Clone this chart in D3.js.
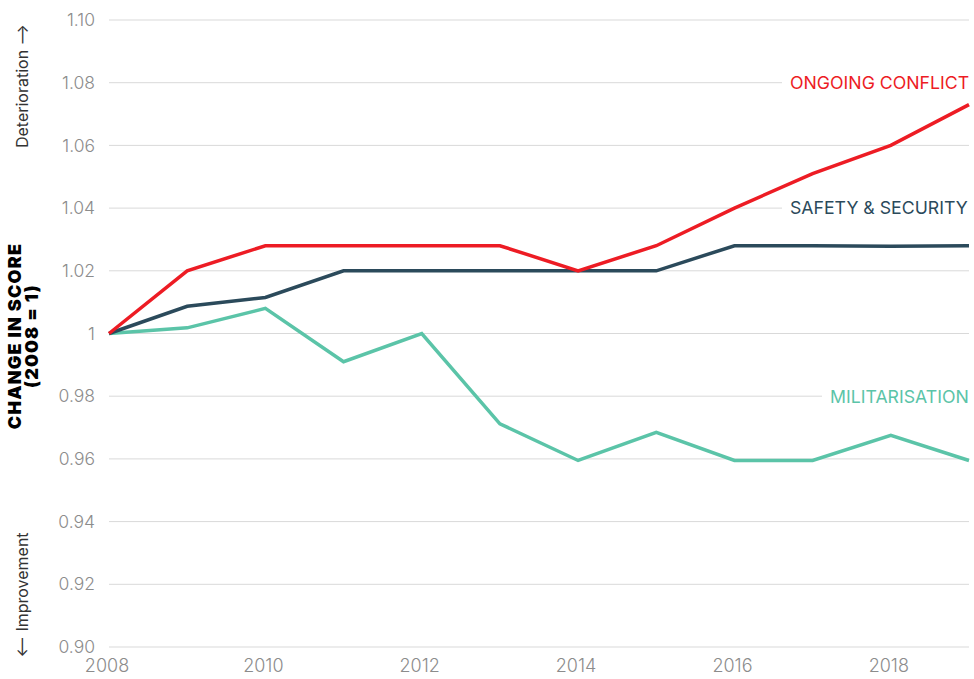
<!DOCTYPE html>
<html>
<head>
<meta charset="utf-8">
<script src="https://cdn.jsdelivr.net/npm/d3@7"></script>
<style>
  body { margin: 0; background: #fff; }
  svg { display: block; font-family: Inter, "Open Sans", sans-serif; }
</style>
</head>
<body>
<svg id="chart" width="974" height="679"></svg>
<script>
const years = [2008, 2009, 2010, 2011, 2012, 2013, 2014, 2015, 2016, 2017, 2018, 2019];
const yTicks = [0.90, 0.92, 0.94, 0.96, 0.98, 1.00, 1.02, 1.04, 1.06, 1.08, 1.10];
const xTicks = [2008, 2010, 2012, 2014, 2016, 2018];

const ongoingConflict = [1.000, 1.020, 1.028, 1.028, 1.028, 1.028, 1.020, 1.028, 1.040, 1.051, 1.060, 1.073];
const safetySecurity  = [1.000, 1.0087, 1.0115, 1.020, 1.020, 1.020, 1.020, 1.020, 1.028, 1.028, 1.0278, 1.028];
const militarisation  = [1.000, 1.0018, 1.008, 0.991, 1.000, 0.9712, 0.9595, 0.9685, 0.9595, 0.9595, 0.9675, 0.9595];

const seriesNames = ["ONGOING CONFLICT", "SAFETY & SECURITY", "MILITARISATION"];
const seriesColors = ["#ed1c24", "#2b4a5b", "#5bc4a8"];
const labelValues = [1.08, 1.04, 0.98];

const svg = d3.select("#chart");

const x = d3.scaleLinear().domain([2008, 2019]).range([109, 969]);
const y = d3.scaleLinear().domain([0.90, 1.10]).range([647, 20]);

// grid lines
svg.append("g")
  .selectAll("line")
  .data(yTicks)
  .enter().append("line")
    .attr("x1", x(2008))
    .attr("x2", x(2019))
    .attr("y1", (d) => y(d))
    .attr("y2", (d) => y(d))
    .style("stroke", "#d9d9d9")
    .style("stroke-width", 1);

// y tick labels
svg.append("g")
  .selectAll("text")
  .data(yTicks)
  .enter().append("text")
    .attr("x", 95)
    .attr("y", (d) => y(d))
    .attr("dy", "0.35em")
    .attr("text-anchor", "end")
    .style("font-size", "17.5px")
    .style("font-weight", 300)
    .style("fill", "#8c8c8c")
    .text((d) => d === 1 ? "1" : d3.format(".2f")(d));

// x tick labels
svg.append("g")
  .selectAll("text")
  .data(xTicks)
  .enter().append("text")
    .attr("x", (d) => x(d) - 2)
    .attr("y", 672)
    .attr("text-anchor", "middle")
    .style("font-size", "18px")
    .style("font-weight", 300)
    .style("fill", "#8c8c8c")
    .text((d) => d);

// series labels with white boxes over grid
const labelX = [790, 790, 830];
seriesNames.forEach((name, i) => {
  const g = svg.append("g");
  const t = g.append("text")
    .attr("x", labelX[i])
    .attr("y", y(labelValues[i]))
    .attr("dy", "0.36em")
    .style("font-size", "17.7px")
    .style("fill", seriesColors[i])
    .text(name);
  const b = t.node().getBBox();
  g.insert("rect", "text")
    .attr("x", b.x - 8)
    .attr("y", b.y)
    .attr("width", b.width + 30)
    .attr("height", b.height)
    .style("fill", "#fff");
});

// lines
const line = d3.line()
  .x((d, i) => x(years[i]))
  .y((d) => y(d));

const seriesData = [militarisation, safetySecurity, ongoingConflict];
const drawColors = [seriesColors[2], seriesColors[1], seriesColors[0]];
svg.append("g")
  .selectAll("path")
  .data(seriesData)
  .enter().append("path")
    .attr("d", line)
    .style("fill", "none")
    .style("stroke", (d, i) => drawColors[i])
    .style("stroke-width", 3.5)
    .style("stroke-linejoin", "miter");

// y axis title
const title = svg.append("text")
  .attr("transform", "translate(21,336) rotate(-90)")
  .attr("text-anchor", "middle")
  .style("font-size", "18px")
  .style("font-weight", 900)
  .style("letter-spacing", "1.2px")
  .style("fill", "#000");
title.append("tspan").attr("x", 0).attr("dy", 0).text("CHANGE IN SCORE");
title.append("tspan").attr("x", 0).attr("dy", "0.95em").text("(2008 = 1)");

// direction hints
svg.append("text")
  .attr("transform", "translate(28,86) rotate(-90)")
  .attr("text-anchor", "middle")
  .style("font-size", "16px")
  .style("fill", "#333")
  .text("Deterioration \u27F6");

svg.append("text")
  .attr("transform", "translate(28,595) rotate(-90)")
  .attr("text-anchor", "middle")
  .style("font-size", "16px")
  .style("fill", "#333")
  .text("\u27F5 Improvement");
</script>
</body>
</html>
